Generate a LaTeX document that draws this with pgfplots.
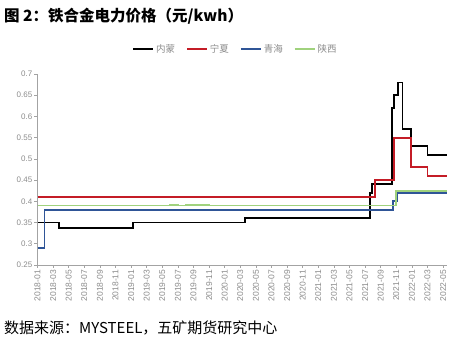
\documentclass[border=0pt]{standalone}
\usepackage{pgfplots}
\pgfplotsset{compat=1.18}
\usepackage{fontspec}
\setmainfont{Liberation Sans}
\newfontfamily\cjk{Noto Sans CJK SC}
\definecolor{cred}{RGB}{196,28,38}
\definecolor{cblue}{RGB}{47,85,151}
\definecolor{cgreen}{RGB}{160,210,125}
\definecolor{tickgray}{RGB}{140,140,140}
\begin{document}
\begin{tikzpicture}
\useasboundingbox (0pt,0pt) rectangle (458pt,353pt);
\node[anchor=west,inner sep=0pt] at (4pt,336.5pt) {\cjk\bfseries\fontsize{15.5}{18}\selectfont 图 2：铁合金电力价格（元/kwh）};
\node[anchor=west,inner sep=0pt] at (4pt,25pt) {\cjk\fontsize{15}{18}\selectfont 数据来源：MYSTEEL，五矿期货研究中心};
\begin{axis}[
  at={(37.5pt,88pt)}, anchor=south west,
  scale only axis, width=409.5pt, height=191pt,
  xmin=0, xmax=52.5, ymin=0.25, ymax=0.7,
  axis x line*=bottom, axis y line*=left,
  axis line style={tickgray!80, -, line width=0.7pt},
  tick style={tickgray!80, line width=0.7pt},
  tick align=outside, major tick length=3pt,
  xtick={0,2,...,52},
  xticklabels={2018-01,2018-03,2018-05,2018-07,2018-09,2018-11,2019-01,2019-03,2019-05,2019-07,2019-09,2019-11,2020-01,2020-03,2020-05,2020-07,2020-09,2020-11,2021-01,2021-03,2021-05,2021-07,2021-09,2021-11,2022-01,2022-03,2022-05},
  ytick={0.25,0.3,0.35,0.4,0.45,0.5,0.55,0.6,0.65,0.7},
  yticklabels={0.25,0.3,0.35,0.4,0.45,0.5,0.55,0.6,0.65,0.7},
  xticklabel style={rotate=90, anchor=east, font=\fontsize{8.5}{10}\selectfont, text=tickgray, inner sep=2pt},
  yticklabel style={font=\fontsize{8}{10}\selectfont, text=tickgray, inner sep=2pt},
  legend style={at={(0.4835,1.131)}, anchor=center, draw=none, fill=none,
    legend columns=4, font=\cjk\fontsize{9.5}{11}\selectfont, text=tickgray,
    /tikz/every even column/.append style={column sep=9pt}},
  legend image code/.code={\draw[#1] (0pt,0pt) -- (20pt,0pt);},
  clip=false,
]
\addplot[const plot, black, line width=1.8pt] coordinates {
(0,0.35) (2.8,0.337) (12.2,0.35) (26.6,0.36) (42.6,0.42) (42.9,0.44) (45.4,0.62) (45.7,0.65) (46.2,0.68) (46.8,0.57) (47.9,0.53) (50,0.51) (52.5,0.51)};
\addlegendentry{内蒙}
\addplot[const plot, cred, line width=1.8pt] coordinates {
(0,0.41) (43.3,0.45) (45.7,0.55) (47.9,0.48) (50,0.46) (52.5,0.46)};
\addlegendentry{宁夏}
\addplot[const plot, cblue, line width=1.8pt] coordinates {
(0,0.29) (0.9,0.38) (45.6,0.40) (46.1,0.42) (52.5,0.42)};
\addlegendentry{青海}
\addplot[const plot, cgreen, line width=1.8pt] coordinates {
(0,0.39) (17,0.3906) (18,0.3902) (19,0.3908) (22,0.3904) (23,0.39) (46,0.425) (52.5,0.425)};
\addlegendentry{陕西}
\end{axis}
\end{tikzpicture}
\end{document}
